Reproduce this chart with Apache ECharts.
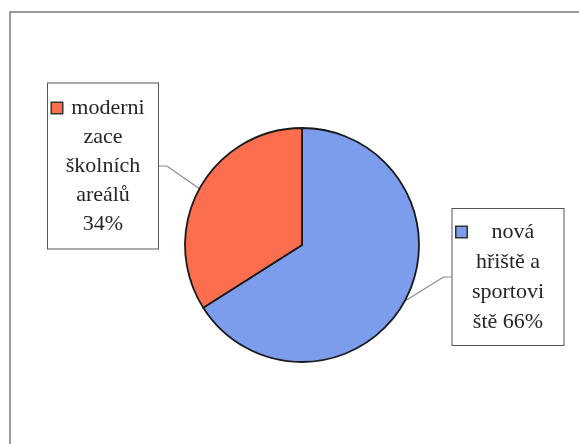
<!DOCTYPE html>
<html>
<head>
<meta charset="utf-8">
<script src="https://cdn.jsdelivr.net/npm/echarts@6/dist/echarts.min.js"></script>
<style>
html,body{margin:0;padding:0;background:#fff;}
#chart{width:579px;height:444px;}
</style>
</head>
<body>
<div id="chart"></div>
<script>
// Data
const categories = ['nová hřiště a sportoviště', 'modernizace školních areálů'];
const values = [66, 34];
const labelLines = ['nová\nhřiště a\nsportovi\nště ', 'moderni\nzace\nškolních\nareálů\n'];
const colors = ['#7c9cec', '#fd6e4e'];

// Layout (box centres, widths)
const boxLayout = [
  {x: 508, y: 277, width: 103, lineHeight: 30, padding: [8, 4]},
  {x: 103, y: 166, width: 102, lineHeight: 29, padding: [10, 4]}
];

const chart = echarts.init(document.getElementById('chart'), null, {renderer: 'canvas'});

const dataItems = categories.map((name, i) => ({
  name: name,
  value: values[i],
  itemStyle: {color: colors[i]},
  label: {
    width: boxLayout[i].width,
    lineHeight: boxLayout[i].lineHeight,
    padding: boxLayout[i].padding,
    rich: {
      sq: {width: 10, height: 10, align: 'left', backgroundColor: colors[i], borderColor: '#333', borderWidth: 1.5, lineHeight: boxLayout[i].lineHeight},
      t: {fontFamily: 'Liberation Serif', fontSize: 22, color: '#262626', align: 'center', lineHeight: boxLayout[i].lineHeight}
    }
  }
}));

chart.setOption({
  backgroundColor: '#fff',
  animation: false,
  graphic: [{
    type: 'rect',
    shape: {x: 10, y: 12, width: 640, height: 520},
    style: {fill: 'none', stroke: '#7a7a7a', lineWidth: 1.5},
    silent: true
  }],
  series: [{
    type: 'pie',
    center: [302, 245],
    radius: 117,
    startAngle: 90,
    clockwise: true,
    data: dataItems,
    itemStyle: {borderColor: '#1a1a1a', borderWidth: 1.8},
    label: {
      show: true,
      position: 'outside',
      fontFamily: 'Liberation Serif',
      fontSize: 22,
      color: '#262626',
      align: 'center',
      backgroundColor: '#fff',
      borderColor: '#555',
      borderWidth: 1,
      formatter: function (p) {
        const lines = (labelLines[p.dataIndex] + p.value + '%').split('\n');
        return lines.map((l, k) => (k === 0 ? '{sq|}{t|' + l + '}' : '{t|' + l + '}')).join('\n');
      }
    },
    labelLine: {
      show: true,
      length: 12,
      length2: 8,
      smooth: false,
      lineStyle: {color: '#8a8a8a', width: 1.2}
    },
    labelLayout: function (params) {
      const b = boxLayout[params.dataIndex];
      return {x: b.x, y: b.y, align: 'center', verticalAlign: 'middle'};
    },
    emphasis: {disabled: true}
  }]
});
</script>
</body>
</html>
